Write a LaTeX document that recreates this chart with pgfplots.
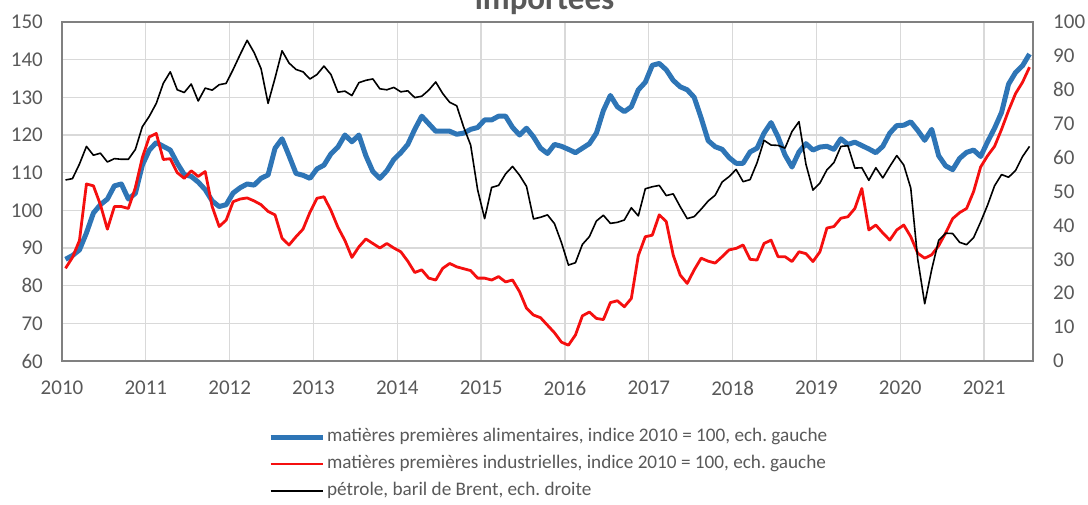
\documentclass[border=0pt]{standalone}
\usepackage{fontspec}
\setmainfont{Carlito}
\usepackage{pgfplots}
\pgfplotsset{compat=1.18}
\usepackage{pgfplotstable}
\definecolor{foodblue}{RGB}{46,117,182}
\definecolor{indred}{RGB}{245,15,15}
\definecolor{labgray}{RGB}{89,89,89}
\definecolor{gridgray}{RGB}{217,217,217}
\definecolor{framegray}{RGB}{128,128,128}

\pgfplotstableread{
k food ind brent
0 87 84.6 53.4
1 88 87.5 53.8
2 89.5 92 58.1
3 94 107 63.3
4 99.3 106.5 60.7
5 101.5 101.5 61.3
6 103 95 58.7
7 106.5 101 59.7
8 107 101 59.5
9 103 100.5 59.5
10 104.5 106 62.4
11 112 114 69.1
12 116 119.5 72.2
13 118 120.4 76.0
14 117 113.5 81.9
15 116 113.7 85.3
16 112.5 110 80.0
17 109.5 108.5 79.2
18 109 110.5 81.7
19 107.5 109 76.7
20 105.5 110.3 80.5
21 102.5 101 79.9
22 101 95.7 81.5
23 101.5 97.4 81.9
24 104.6 102.3 86.0
25 106 103 90.4
26 107 103.3 94.6
27 106.7 102.5 91.0
28 108.5 101.5 86.2
29 109.4 99.7 76.0
30 116.5 98.8 83.5
31 119 92.6 91.5
32 114.5 90.8 87.9
33 109.8 93 86.0
34 109.3 95 85.3
35 108.5 99.5 83.2
36 111 103.2 84.5
37 112 103.6 87.0
38 115 100 84.5
39 116.8 95.5 79.3
40 120 92 79.6
41 118.2 87.5 78.3
42 120 90.3 82.1
43 114.5 92.4 82.8
44 110.3 91.2 83.2
45 108.5 90 80.3
46 110.5 91.2 80.0
47 113.5 90 80.7
48 115.3 89 79.4
49 117.5 86.5 79.7
50 121.5 83.5 77.7
51 125 84.2 78.1
52 123 82 79.9
53 121 81.5 82.3
54 121 84.6 78.9
55 121 85.9 76.3
56 120.2 85 75.3
57 120.5 84.5 69.0
58 121.5 84 63.7
59 122 82 50.5
60 124 82 42.0
61 124 81.5 51.2
62 125 82.4 51.8
63 125 81 55.2
64 122 81.5 57.4
65 120 78.4 54.8
66 121.8 74 51.5
67 119.5 72.2 41.9
68 116.5 71.5 42.4
69 115.1 69.5 43.1
70 117.5 67.5 40.5
71 117 65 34.9
72 116.2 64.2 28.3
73 115.3 66.9 29.0
74 116.5 72 34.4
75 117.7 73 36.7
76 120.5 71.3 41.3
77 126.5 71 43.0
78 130.5 75.5 40.6
79 127.5 76 40.9
80 126.2 74.4 41.6
81 127.5 76.6 45.2
82 132 88 42.8
83 134 93 50.8
84 138.5 93.4 51.4
85 139 98.8 51.8
86 137.3 97 48.8
87 134.5 88.1 49.3
88 132.8 82.8 45.5
89 132 80.6 42.0
90 130 84.2 42.6
91 124.5 87.3 44.8
92 118.5 86.5 47.2
93 116.9 86 48.9
94 116.2 87.7 52.8
95 114 89.5 54.4
96 112.5 89.9 56.5
97 112.5 90.8 52.9
98 115.5 87 53.5
99 116.5 86.8 58.5
100 120.5 91.2 65.1
101 123.3 92.1 63.7
102 119.5 87.7 63.6
103 114.7 87.7 62.8
104 111.5 86.4 67.7
105 115.5 89 70.6
106 117.7 88.5 58.0
107 116 86.4 50.4
108 116.8 89 52.5
109 117 95.3 56.4
110 116.2 95.7 58.5
111 119 97.9 63.3
112 117.5 98.3 63.5
113 118.1 100.5 56.9
114 117.2 105.8 57.0
115 116.3 94.8 53.3
116 115.3 96.1 57.0
117 117 94 54.0
118 120.5 92.1 57.4
119 122.5 94.8 60.6
120 122.6 96.1 57.8
121 123.5 93 51.0
122 121.2 88.6 30.0
123 118.6 87.3 16.9
124 121.5 88.2 27.0
125 114.5 90.6 35.6
126 111.8 94 37.7
127 110.8 97.8 37.6
128 113.8 99.4 35.0
129 115.4 100.5 34.3
130 116 105 36.4
131 114.3 111.5 41.0
132 118.2 114.5 46.0
133 121.8 117 51.7
134 126 121.5 55.0
135 133.5 126.5 54.2
136 136.6 131 56.2
137 138.4 134 60.3
138 141.5 138 63.3
}\data

\begin{document}
\frenchspacing
\begin{tikzpicture}
\begin{axis}[
  at={(0pt,0pt)}, anchor=south west,
  scale only axis, width=971pt, height=339pt,
  xmin=2010, xmax=2021.5833, ymin=60, ymax=150,
  xtick={2010,2011,...,2021}, ytick={60,70,...,150},
  /pgf/number format/assume math mode=true,
  /pgf/number format/1000 sep={},
  grid=major, major grid style={gridgray, line width=1.3pt},
  axis line style={framegray, line width=1.6pt, -},
  major tick length=0pt,
  tick label style={text=labgray, font=\fontsize{21}{25}\selectfont, inner sep=0pt},
  xticklabel shift=20pt, yticklabel shift=19pt,
  title={importées},
  title style={at={(axis description cs:0.497,1.018)}, anchor=base,
    font=\bfseries\fontsize{33}{36}\selectfont, text=labgray},
  legend style={at={(axis description cs:0.2122,-0.1844)}, anchor=north west,
    draw=none, fill=none, inner sep=0pt, outer sep=0pt, row sep=0pt, column sep=2pt,
    font=\fontsize{19.2}{24}\selectfont, text=labgray,
    nodes={inner sep=0pt, text height=18pt, text depth=9pt}},
  legend cell align=left,
  legend image code/.code={\draw[#1] (0pt,0pt) -- (52pt,0pt);},
]
\addplot[foodblue, line width=5pt, line join=round] table[x expr=2010+(\thisrow{k}+0.5)/12, y=food] {\data};
\addlegendentry{matières premières alimentaires, indice 2010 = 100, ech. gauche}
\addplot[indred, line width=2.8pt, line join=round] table[x expr=2010+(\thisrow{k}+0.5)/12, y=ind] {\data};
\addlegendentry{matières premières industrielles, indice 2010 = 100, ech. gauche}
\addlegendimage{black, line width=1.6pt}
\addlegendentry{pétrole, baril de Brent, ech. droite}
\end{axis}
\begin{axis}[
  at={(0pt,0pt)}, anchor=south west,
  scale only axis, width=971pt, height=339pt,
  xmin=2010, xmax=2021.5833, ymin=0, ymax=100,
  ytick={0,10,...,100},
  axis x line=none, axis y line*=right,
  /pgf/number format/assume math mode=true,
  axis line style={framegray, line width=1.6pt, -},
  major tick length=0pt,
  tick label style={text=labgray, font=\fontsize{21}{25}\selectfont, inner sep=0pt},
  yticklabel shift=20pt,
]
\addplot[black, line width=1.6pt, line join=round] table[x expr=2010+(\thisrow{k}+0.5)/12, y=brent] {\data};
\end{axis}
\pgfresetboundingbox
\path[use as bounding box] (-62pt,-143pt) rectangle (1026pt,361pt);
\end{tikzpicture}
\end{document}
